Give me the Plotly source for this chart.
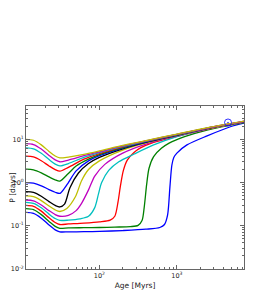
import plotly.graph_objects as go

# ---- data (age in Myr, rotation period in days) ----
age_1 = [11.3, 14.1, 17.8, 22.4, 26.9, 30.9, 39.8, 63.1, 100, 200, 398, 603, 692, 759, 813, 861, 912, 1000, 1349, 2455, 4898, 7413]
per_1 = [0.204, 0.194, 0.150, 0.104, 0.0804, 0.0724, 0.0724, 0.0728, 0.0741, 0.0776, 0.0832, 0.0912, 0.107, 0.178, 0.794, 2.51, 3.80, 4.79, 7.41, 12.0, 19.5, 23.7]

age_2 = [11.3, 14.1, 17.8, 22.4, 26.9, 30.9, 39.8, 63.1, 100, 158, 251, 316, 355, 380, 407, 437, 501, 631, 794, 1259, 2512, 7413]
per_2 = [0.248, 0.236, 0.181, 0.126, 0.0966, 0.0871, 0.0891, 0.0902, 0.0912, 0.0933, 0.0955, 0.102, 0.132, 0.282, 0.891, 2.14, 3.98, 6.17, 8.13, 11.5, 16.6, 24.5]

age_3 = [11.3, 14.1, 17.8, 22.4, 26.9, 30.9, 39.8, 63.1, 100, 138, 158, 174, 186, 204, 229, 282, 339, 501, 1000, 2512, 7413]
per_3 = [0.295, 0.281, 0.218, 0.153, 0.119, 0.107, 0.110, 0.115, 0.123, 0.135, 0.166, 0.355, 0.794, 1.91, 3.31, 5.01, 6.31, 8.51, 11.7, 17.2, 25.1]

age_4 = [11.3, 14.1, 17.8, 22.4, 26.9, 30.9, 39.8, 56.2, 72.4, 87.1, 97.7, 107, 132, 178, 282, 501, 1000, 2512, 7413]
per_4 = [0.347, 0.330, 0.260, 0.186, 0.147, 0.133, 0.135, 0.145, 0.166, 0.263, 0.562, 1.00, 1.91, 3.02, 4.57, 7.41, 11.5, 17.4, 25.1]

age_5 = [11.3, 14.1, 17.8, 22.4, 26.9, 30.9, 39.8, 50.1, 58.9, 72.4, 87.1, 117.5, 200, 398, 1000, 2512, 7413]
per_5 = [0.394, 0.377, 0.303, 0.224, 0.181, 0.166, 0.174, 0.224, 0.331, 0.676, 1.41, 2.63, 4.79, 7.76, 12.0, 17.5, 25.4]

age_6 = [11.3, 14.1, 17.8, 22.4, 26.9, 30.9, 38.0, 49.0, 58.9, 72.4, 100, 200, 398, 1000, 2512, 7413]
per_6 = [0.490, 0.470, 0.382, 0.286, 0.232, 0.214, 0.251, 0.468, 1.10, 2.00, 3.16, 5.62, 8.22, 12.3, 17.7, 25.5]

age_7 = [11.3, 14.1, 17.8, 22.4, 26.9, 30.9, 35.5, 41.7, 53.7, 72.4, 100, 200, 398, 1000, 2512, 7413]
per_7 = [0.617, 0.592, 0.482, 0.362, 0.295, 0.272, 0.316, 0.759, 1.66, 2.75, 3.80, 6.03, 8.51, 12.4, 17.9, 25.6]

age_8 = [11.3, 14.1, 17.8, 22.4, 26.9, 30.9, 35.5, 39.8, 50.1, 72.4, 100, 200, 398, 1000, 2512, 7413]
per_8 = [1.00, 0.970, 0.841, 0.687, 0.596, 0.562, 0.741, 1.00, 1.86, 3.16, 4.17, 6.24, 8.71, 12.6, 18.0, 25.7]

age_9 = [11.3, 14.1, 17.8, 22.4, 26.9, 30.9, 39.8, 50.1, 72.4, 100, 200, 398, 1000, 2512, 7413]
per_9 = [2.04, 1.97, 1.68, 1.35, 1.15, 1.08, 1.62, 2.40, 3.47, 4.42, 6.46, 8.91, 12.7, 18.1, 25.8]

age_10 = [11.3, 14.1, 17.8, 22.4, 26.9, 30.9, 39.8, 63.1, 100, 200, 398, 1000, 2512, 7413]
per_10 = [4.06, 3.90, 3.19, 2.42, 1.99, 1.83, 2.24, 3.47, 4.68, 6.68, 9.02, 12.8, 18.2, 25.9]

age_11 = [11.3, 14.1, 17.8, 22.4, 26.9, 30.9, 39.8, 63.1, 100, 200, 398, 1000, 2512, 7413]
per_11 = [6.31, 6.01, 4.74, 3.39, 2.67, 2.43, 2.75, 3.80, 4.90, 6.84, 9.12, 12.9, 18.3, 26.1]

age_12 = [11.3, 14.1, 17.8, 22.4, 26.9, 30.9, 39.8, 63.1, 100, 200, 398, 1000, 2512, 7413]
per_12 = [7.94, 7.57, 5.94, 4.24, 3.33, 3.02, 3.31, 4.17, 5.13, 7.00, 9.23, 13.0, 18.4, 26.2]

age_13 = [11.3, 14.1, 17.8, 22.4, 26.9, 30.9, 39.8, 63.1, 100, 200, 398, 1000, 2512, 7413]
per_13 = [10.0, 9.51, 7.43, 5.25, 4.10, 3.72, 3.89, 4.47, 5.37, 7.24, 9.33, 13.2, 18.6, 26.3]

sun_age = [4570]
sun_per = [24.5]

x_tick_vals = [100, 1000]
x_tick_text = ["10<sup>2</sup>", "10<sup>3</sup>"]
y_tick_vals = [0.01, 0.1, 1, 10]
y_tick_text = ["10<sup>-2</sup>", "10<sup>-1</sup>", "10<sup>0</sup>", "10<sup>1</sup>"]
x_minor = [20, 30, 40, 50, 60, 70, 80, 90, 200, 300, 400, 500, 600, 700, 800, 900,
           2000, 3000, 4000, 5000, 6000, 7000]
y_minor = [0.02, 0.03, 0.04, 0.05, 0.06, 0.07, 0.08, 0.09, 0.2, 0.3, 0.4, 0.5, 0.6, 0.7, 0.8, 0.9,
           2, 3, 4, 5, 6, 7, 8, 9, 20, 30, 40, 50]

colors = ["#0000ff", "#008000", "#ff0000", "#00bfbf", "#bf00bf", "#bfbf00", "#000000",
          "#0000ff", "#008000", "#ff0000", "#00bfbf", "#bf00bf", "#bfbf00"]

curves = [(age_1, per_1), (age_2, per_2), (age_3, per_3), (age_4, per_4), (age_5, per_5),
          (age_6, per_6), (age_7, per_7), (age_8, per_8), (age_9, per_9), (age_10, per_10),
          (age_11, per_11), (age_12, per_12), (age_13, per_13)]

fig = go.Figure()
for (a, p), c in zip(curves, colors):
    fig.add_trace(go.Scatter(x=a, y=p, mode="lines",
                             line=dict(color=c, width=1.3, shape="spline", smoothing=0.8),
                             showlegend=False, hoverinfo="skip"))

fig.add_trace(go.Scatter(x=sun_age, y=sun_per, mode="markers",
                         marker=dict(symbol="circle-open-dot", size=7, color="#0000ff",
                                     line=dict(width=0.8, color="#0000ff")),
                         showlegend=False))

axis_common = dict(showgrid=False, zeroline=False, showline=True, mirror="ticks",
                   linecolor="#666666", linewidth=1, ticks="inside", ticklen=4,
                   tickcolor="#666666", automargin=False,
                   tickfont=dict(family="DejaVu Sans", size=6.5, color="#222222"))

fig.update_xaxes(type="log", range=[1.053, 3.866], tickmode="array",
                 tickvals=x_tick_vals, ticktext=x_tick_text,
                 minor=dict(tickmode="array", tickvals=x_minor, ticks="inside", ticklen=2,
                            tickcolor="#666666"),
                 title=dict(text="Age [Myrs]", font=dict(family="DejaVu Sans", size=7.5, color="#222222"),
                            standoff=3),
                 **axis_common)
fig.update_yaxes(type="log", range=[-2, 1.77], tickmode="array",
                 tickvals=y_tick_vals, ticktext=y_tick_text,
                 minor=dict(tickmode="array", tickvals=y_minor, ticks="inside", ticklen=2,
                            tickcolor="#666666"),
                 title=dict(text="P [days]", font=dict(family="DejaVu Sans", size=7.5, color="#222222"),
                            standoff=1),
                 **axis_common)

# the page adds an 8px body margin, so the figure is sized/offset to compensate
fig.update_layout(width=261, height=292, margin=dict(l=18, r=25, t=98, b=31),
                  paper_bgcolor="white", plot_bgcolor="white")

fig.write_html("out.html")
